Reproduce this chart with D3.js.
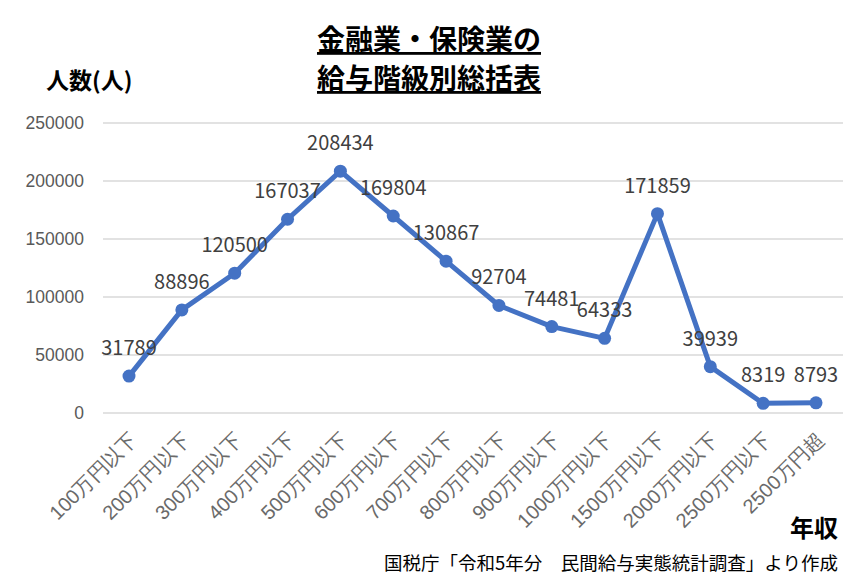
<!DOCTYPE html>
<html>
<head>
<meta charset="utf-8">
<script src="https://cdn.jsdelivr.net/npm/d3@7"></script>
<style>
body{margin:0;background:#fff;}
svg{display:block;font-family:"Noto Sans CJK JP","Noto Sans",sans-serif;}
</style>
</head>
<body>
<svg id="c" width="858" height="587"></svg>
<script>
const categories = ["100万円以下","200万円以下","300万円以下","400万円以下","500万円以下","600万円以下","700万円以下","800万円以下","900万円以下","1000万円以下","1500万円以下","2000万円以下","2500万円以下","2500万円超"];
const values = [31789,88896,120500,167037,208434,169804,130867,92704,74481,64333,171859,39939,8319,8793];
const yTicks = [0,50000,100000,150000,200000,250000];
const titleLines = ["金融業・保険業の","給与階級別総括表"];
const yAxisTitle = "人数(人)";
const xAxisTitle = "年収";
const sourceText = "国税庁「令和5年分　民間給与実態統計調査」より作成";

const svg = d3.select("#c");
const x = d3.scalePoint().domain(categories).range([129,816]);
const y = d3.scaleLinear().domain([0,250000]).range([413,123]);

// gridlines
svg.append("g").selectAll("line").data(yTicks).join("line")
  .attr("x1",103).attr("x2",843)
  .attr("y1",d=>y(d)).attr("y2",d=>y(d))
  .attr("stroke","#d9d9d9").attr("stroke-width",1.5);

// y axis labels
const yAxis = d3.axisLeft(y).tickValues(yTicks).tickSize(0).tickPadding(0).tickFormat(d3.format("d"));
const ga = svg.append("g").attr("transform","translate(84,0)").call(yAxis);
ga.select(".domain").remove();
ga.selectAll("text").attr("fill","#595959").style("font-size","17.5px").style("font-family","inherit");

// x axis labels
const xAxis = d3.axisBottom(x).tickSize(0).tickPadding(0);
const gx = svg.append("g").call(xAxis);
gx.select(".domain").remove();
gx.selectAll(".tick").attr("transform",d=>`translate(${x(d)+4},436)`);
gx.selectAll("text").attr("fill","#6a6a6a").style("font-size","20px").style("font-family","inherit")
  .attr("text-anchor","end").attr("x",0).attr("y",0).attr("dy","0.35em")
  .attr("transform","rotate(-45)");

// line
const line = d3.line().x((d,i)=>x(categories[i])).y(d=>y(d));
svg.append("path").datum(values).attr("d",line)
  .attr("fill","none").attr("stroke","#4472C4").attr("stroke-width",5).attr("stroke-linejoin","round");
svg.append("g").selectAll("circle").data(values).join("circle")
  .attr("cx",(d,i)=>x(categories[i])).attr("cy",d=>y(d)).attr("r",6.5).attr("fill","#4472C4");

// data labels
svg.append("g").selectAll("text").data(values).join("text")
  .attr("x",(d,i)=>x(categories[i])).attr("y",d=>y(d)-21)
  .attr("text-anchor","middle").attr("fill","#404040").style("font-size","20px")
  .text(d=>d);

// title
svg.append("g").selectAll("text").data(titleLines).join("text")
  .attr("x",429).attr("y",(d,i)=>50+i*39)
  .attr("text-anchor","middle").attr("font-weight","bold").style("font-size","28px")
  .attr("text-decoration","underline").attr("fill","#000").text(d=>d);

svg.append("text").attr("x",46).attr("y",89).attr("font-weight","bold").style("font-size","23px").attr("fill","#000").text(yAxisTitle);
svg.append("text").attr("x",838).attr("y",537).attr("text-anchor","end").attr("font-weight","bold").style("font-size","24px").attr("fill","#000").text(xAxisTitle);
svg.append("text").attr("x",838).attr("y",570).attr("text-anchor","end").style("font-size","18.5px").attr("fill","#000").text(sourceText);
</script>
</body>
</html>
